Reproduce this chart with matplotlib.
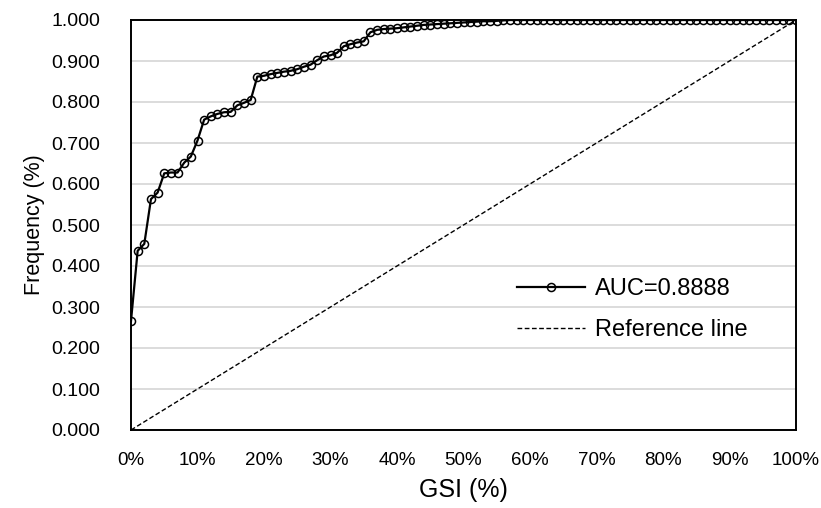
import numpy as np
import matplotlib
matplotlib.use('Agg')
import matplotlib.pyplot as plt
from matplotlib.ticker import FuncFormatter, MultipleLocator

plt.rcParams['font.family'] = ['Liberation Sans', 'DejaVu Sans']

# GSI in percent, one point per 1 %
gsi = np.arange(0, 101)
freq = [0.266, 0.437, 0.454, 0.563, 0.579, 0.626, 0.628, 0.628, 0.652, 0.667,
        0.706, 0.757, 0.765, 0.771, 0.775, 0.776, 0.792, 0.798, 0.805, 0.862,
        0.864, 0.868, 0.871, 0.874, 0.876, 0.880, 0.886, 0.891, 0.902, 0.911,
        0.914, 0.920, 0.936, 0.941, 0.945, 0.948, 0.970, 0.976, 0.978, 0.979,
        0.980, 0.982, 0.984, 0.986, 0.988, 0.989, 0.990, 0.991, 0.992, 0.993,
        0.994, 0.995, 0.996, 0.997, 0.997, 0.998, 0.999, 1.000, 1.000, 1.000,
        1.000, 1.000, 1.000, 1.000, 1.000, 1.000, 1.000, 1.000, 1.000, 1.000,
        1.000, 1.000, 1.000, 1.000, 1.000, 1.000, 1.000, 1.000, 1.000, 1.000,
        1.000, 1.000, 1.000, 1.000, 1.000, 1.000, 1.000, 1.000, 1.000, 1.000,
        1.000, 1.000, 1.000, 1.000, 1.000, 1.000, 1.000, 1.000, 1.000, 1.000,
        1.000]
ref_x = [0, 100]
ref_y = [0.0, 1.0]
auc_label = 'AUC=0.8888'
ref_label = 'Reference line'

fig = plt.figure(figsize=(8.21, 5.08), dpi=100)
ax = fig.add_axes([131 / 821, 1 - 430 / 508, 665 / 821, 410 / 508])

ax.plot(gsi, freq, color='black', lw=1.6, marker='o', ms=5.8,
        mfc='none', mec='black', mew=1.1, label=auc_label, zorder=3)
ax.plot(ref_x, ref_y, color='black', lw=1.0, ls=(0, (3.4, 1.8)),
        label=ref_label, zorder=2)

ax.set_xlim(0, 100)
ax.set_ylim(0, 1)
ax.xaxis.set_major_locator(MultipleLocator(10))
ax.yaxis.set_major_locator(MultipleLocator(0.1))
ax.xaxis.set_major_formatter(FuncFormatter(lambda v, p: '%d%%' % round(v)))
ax.yaxis.set_major_formatter(FuncFormatter(lambda v, p: '%.3f' % v))
ax.tick_params(axis='both', length=0)
ax.tick_params(axis='y', pad=22, labelsize=14)
ax.tick_params(axis='x', pad=16, labelsize=13.5)

ax.grid(axis='y', color='#d9d9d9', lw=1.3)
ax.set_axisbelow(True)
for s in ax.spines.values():
    s.set_color('black')
    s.set_linewidth(1.4)

ax.set_xlabel('GSI (%)', fontsize=18, labelpad=6)
ax.set_ylabel('Frequency (%)', fontsize=15.5, labelpad=5)

fig.legend(loc='upper left', bbox_to_anchor=(517 / 821, 1 - 278 / 508),
           frameon=False, fontsize=17, handlelength=2.9, handletextpad=0.4,
           labelspacing=0.8, borderpad=0, borderaxespad=0)

fig.savefig('out.png', dpi=100)
